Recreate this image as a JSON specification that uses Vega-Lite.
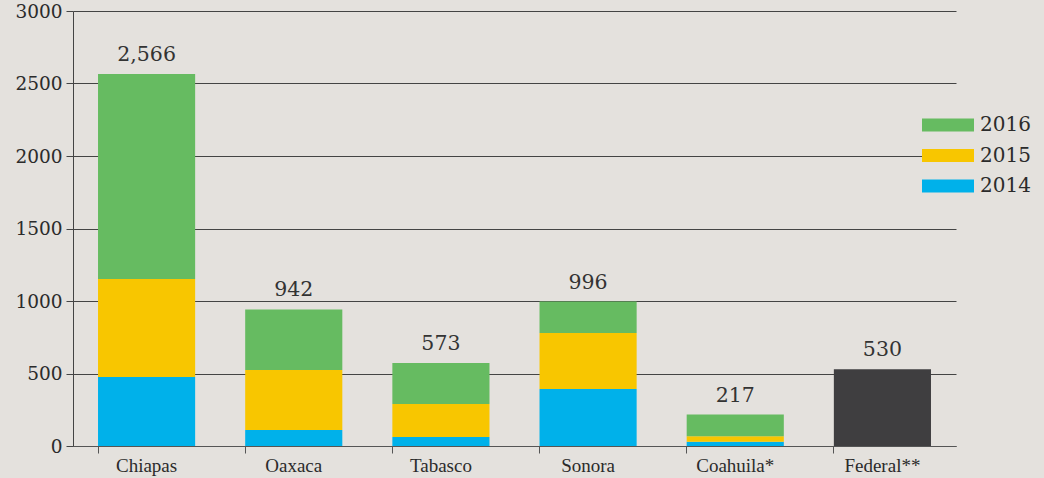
{
  "$schema": "https://vega.github.io/schema/vega-lite/v6.json",
  "autosize": "none",
  "width": 883,
  "height": 435,
  "padding": {"left": 73, "top": 11, "right": 88, "bottom": 32},
  "background": "#e4e1dd",
  "config": {
    "view": {"stroke": null},
    "font": "DejaVu Serif"
  },
  "data": {
    "values": [
      {"state": "Chiapas", "year": "2014", "value": 476},
      {"state": "Chiapas", "year": "2015", "value": 676},
      {"state": "Chiapas", "year": "2016", "value": 1414},
      {"state": "Oaxaca", "year": "2014", "value": 110},
      {"state": "Oaxaca", "year": "2015", "value": 414},
      {"state": "Oaxaca", "year": "2016", "value": 418},
      {"state": "Tabasco", "year": "2014", "value": 62},
      {"state": "Tabasco", "year": "2015", "value": 228},
      {"state": "Tabasco", "year": "2016", "value": 283},
      {"state": "Sonora", "year": "2014", "value": 393},
      {"state": "Sonora", "year": "2015", "value": 386},
      {"state": "Sonora", "year": "2016", "value": 217},
      {"state": "Coahuila*", "year": "2014", "value": 30},
      {"state": "Coahuila*", "year": "2015", "value": 37},
      {"state": "Coahuila*", "year": "2016", "value": 150},
      {"state": "Federal**", "year": "Federal", "value": 530}
    ]
  },
  "encoding": {
    "x": {
      "field": "state",
      "type": "nominal",
      "sort": null,
      "scale": {"paddingInner": 0.34, "paddingOuter": 0.17},
      "axis": {
        "title": null,
        "labelAngle": 0,
        "labelFont": "Liberation Serif",
        "labelFontSize": 19,
        "labelColor": "#2b2b2b",
        "labelPadding": 3,
        "bandPosition": 0,
        "tickSize": 7,
        "tickColor": "#555",
        "domainColor": "#555",
        "grid": false
      }
    }
  },
  "layer": [
    {
      "mark": {"type": "bar"},
      "encoding": {
        "y": {
          "field": "value",
          "type": "quantitative",
          "aggregate": "sum",
          "stack": "zero",
          "scale": {"domain": [0, 3000]},
          "axis": {
            "title": null,
            "values": [0, 500, 1000, 1500, 2000, 2500, 3000],
            "format": "d",
            "labelFontSize": 18.5,
            "labelColor": "#2b2b2b",
            "labelPadding": 4,
            "tickSize": 7,
            "tickColor": "#444",
            "domainColor": "#444",
            "gridColor": "#444",
            "gridWidth": 1,
            "gridOpacity": 1
          }
        },
        "color": {
          "field": "year",
          "type": "nominal",
          "scale": {
            "domain": ["2016", "2015", "2014", "Federal"],
            "range": ["#66bb61", "#f8c600", "#00b1ea", "#3f3e40"]
          },
          "legend": {
            "title": null,
            "values": ["2016", "2015", "2014"],
            "orient": "none",
            "legendX": 849,
            "legendY": 100,
            "symbolType": "M-1,-0.25H1V0.25H-1Z",
            "symbolSize": 2704,
            "symbolStrokeWidth": 0,
            "labelFontSize": 20,
            "labelColor": "#2b2b2b",
            "labelOffset": 6,
            "clipHeight": 28,
            "rowPadding": 2.5
          }
        },
        "order": {"field": "year", "type": "ordinal", "sort": "ascending"}
      }
    },
    {
      "mark": {"type": "text", "baseline": "bottom", "dy": -9, "fontSize": 20.5, "color": "#333"},
      "encoding": {
        "y": {"field": "value", "type": "quantitative", "aggregate": "sum"},
        "text": {"field": "value", "type": "quantitative", "aggregate": "sum", "format": ","}
      }
    }
  ]
}
